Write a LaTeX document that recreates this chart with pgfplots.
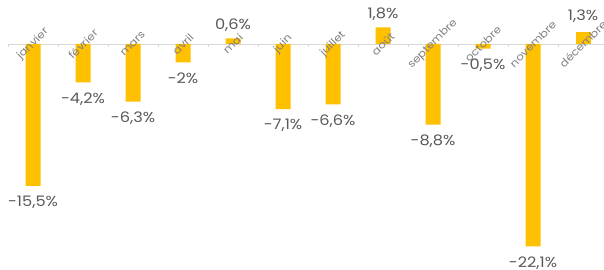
\documentclass[border=0pt]{standalone}
\usepackage{pgfplots}
\pgfplotsset{compat=1.18}
\usepackage{fontspec}
\setmainfont{Poppins}[FakeStretch=1.12]
\definecolor{barcol}{HTML}{FFC000}
\definecolor{valgray}{HTML}{595959}
\definecolor{monthgray}{HTML}{808080}
\definecolor{linegray}{HTML}{D9D9D9}
\tikzset{month/.style={rotate=45, font=\fontsize{10.5}{12}\selectfont, text=monthgray, anchor=center, inner sep=0pt}}
\begin{document}
\begin{tikzpicture}
\begin{axis}[
  width=604bp, height=270bp, scale only axis,
  xmin=-0.66, xmax=11.42, ymin=-24.67, ymax=4.8,
  axis lines=none,
  clip=false,
  ybar, bar width=15bp, bar shift=0pt,
  point meta=explicit symbolic,
  nodes near coords,
  every node near coord/.append style={font=\fontsize{14.5}{16}\selectfont, text=valgray, inner sep=0pt},
]
\draw[linegray, line width=0.8bp] (axis cs:-0.5,0) -- (axis cs:11.42,0);
\pgfplotsinvokeforeach{-0.5,0.5,1.5,2.5,3.5,4.5,5.5,6.5,7.5,8.5,9.5,10.5}{
  \draw[linegray, line width=0.8bp] (axis cs:#1,0) -- (axis cs:#1,-0.35);
}
\addplot[fill=barcol, draw=none,
  every node near coord/.append style={anchor=north, yshift=-10bp}] coordinates {
  (0,-15.5) [-15,5\%]
  (1,-4.2) [-4,2\%]
  (2,-6.3) [-6,3\%]
  (3,-2) [-2\%]
  (5,-7.1) [-7,1\%]
  (6,-6.6) [-6,6\%]
  (8,-8.8) [-8,8\%]
  (9,-0.5) [-0,5\%]
  (10,-22.1) [-22,1\%]
};
\addplot[fill=barcol, draw=none,
  every node near coord/.append style={anchor=base, yshift=9bp}] coordinates {
  (4,0.6) [0,6\%]
  (7,1.8) [1,8\%]
};
\addplot[fill=barcol, draw=none,
  every node near coord/.append style={anchor=base, yshift=12bp}] coordinates {
  (11,1.3) [1,3\%]
};
\node[month] at (axis cs:0,0) {janvier};
\node[month] at (axis cs:1,0) {février};
\node[month] at (axis cs:2,0) {mars};
\node[month] at (axis cs:3,0) {avril};
\node[month] at (axis cs:4,0) {mai};
\node[month] at (axis cs:5,0) {juin};
\node[month] at (axis cs:6,0) {juillet};
\node[month] at (axis cs:7,0) {août};
\node[month] at (axis cs:8,0) {septembre};
\node[month] at (axis cs:9,0) {octobre};
\node[month] at (axis cs:10,0) {novembre};
\node[month] at (axis cs:11,0) {décembre};
\end{axis}
\pgfresetboundingbox
\useasboundingbox (current axis.south west) rectangle (current axis.north east);
\end{tikzpicture}
\end{document}
